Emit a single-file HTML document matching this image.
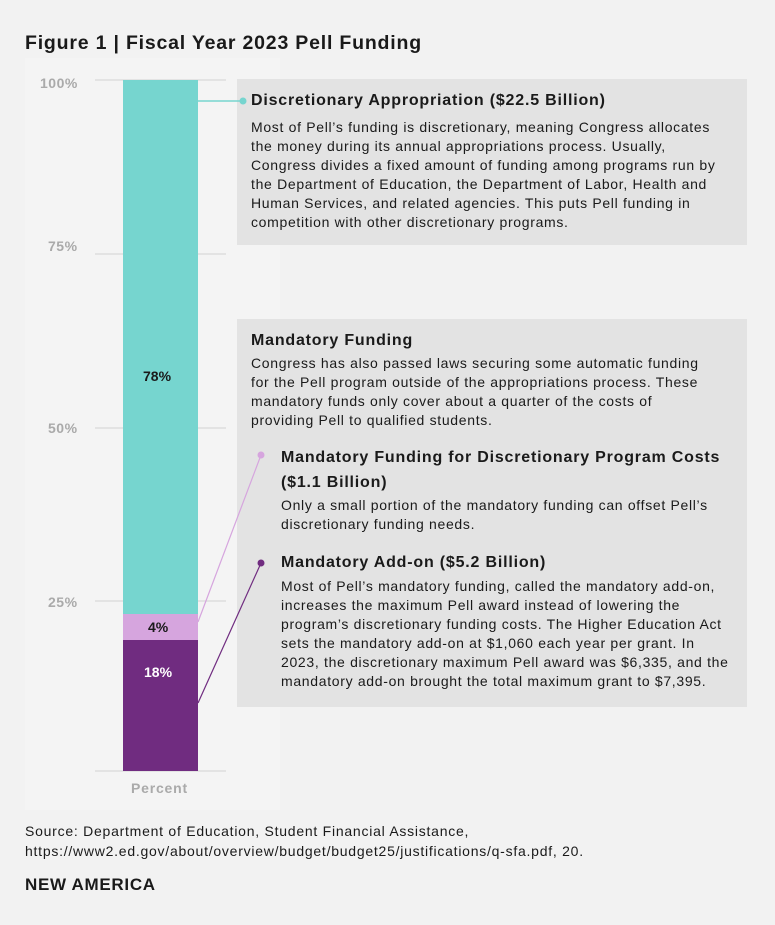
<!DOCTYPE html>
<html><head><meta charset="utf-8"><style>
body{margin:0;width:775px;height:925px;background:#f2f2f2;position:relative;overflow:hidden;font-family:"Liberation Sans",sans-serif;color:#1a1a1a}
.a{position:absolute;white-space:nowrap;line-height:20px}
.b{font-size:14px;letter-spacing:0.68px}
.h{font-size:16px;font-weight:bold;letter-spacing:0.8px}
.y{font-size:14px;font-weight:bold;color:#aaa;letter-spacing:0.5px}
</style></head><body>
<div class="a" style="left:25px;top:31px;font-size:19.5px;font-weight:bold;letter-spacing:0.8px;line-height:24px">Figure 1 | Fiscal Year 2023 Pell Funding</div>
<div style="position:absolute;left:25px;top:58px;width:255px;height:752px;background:#f4f4f4"></div>
<div style="position:absolute;left:237px;top:79px;width:510px;height:166px;background:#e3e3e3"></div>
<div style="position:absolute;left:237px;top:319px;width:510px;height:388px;background:#e3e3e3"></div>
<svg style="position:absolute;left:0;top:0" width="775" height="925">
<g stroke="#ddd" stroke-width="1.5">
<line x1="95" y1="80" x2="226" y2="80"/><line x1="95" y1="254" x2="226" y2="254"/>
<line x1="95" y1="428" x2="226" y2="428"/><line x1="95" y1="601" x2="226" y2="601"/>
<line x1="95" y1="771" x2="226" y2="771"/></g>
<rect x="123" y="80" width="75" height="534" fill="#76d5cf"/>
<rect x="123" y="614" width="75" height="26" fill="#d6a5de"/>
<rect x="123" y="640" width="75" height="131" fill="#702c80"/>
<line x1="198" y1="101" x2="243" y2="101" stroke="#76d5cf" stroke-width="1.5"/><circle cx="243" cy="101" r="3.5" fill="#76d5cf"/>
<line x1="198" y1="622" x2="261" y2="455" stroke="#d6a5de" stroke-width="1.2"/><circle cx="261" cy="455" r="3.5" fill="#d6a5de"/>
<line x1="198" y1="703" x2="261" y2="563" stroke="#702c80" stroke-width="1.2"/><circle cx="261" cy="563" r="3.5" fill="#702c80"/>
</svg>
<div class="a y" style="left:40px;top:73px">100%</div>
<div class="a y" style="left:48px;top:236px">75%</div>
<div class="a y" style="left:48px;top:418px">50%</div>
<div class="a y" style="left:48px;top:592px">25%</div>
<div class="a" style="left:131px;top:778px;font-size:14px;font-weight:bold;color:#aaa;letter-spacing:0.8px">Percent</div>
<div class="a" style="left:143px;top:366px;font-size:14px;font-weight:bold">78%</div>
<div class="a" style="left:148px;top:617px;font-size:14px;font-weight:bold">4%</div>
<div class="a" style="left:144px;top:662px;font-size:14px;font-weight:bold;color:#fff">18%</div>

<div class="a h" style="left:251px;top:91px">Discretionary Appropriation ($22.5 Billion)</div>
<div class="a b" style="left:251px;top:118px;line-height:19px">Most of Pell’s funding is discretionary, meaning Congress allocates<br>the money during its annual appropriations process. Usually,<br>Congress divides a fixed amount of funding among programs run by<br>the Department of Education, the Department of Labor, Health and<br>Human Services, and related agencies. This puts Pell funding in<br>competition with other discretionary programs.</div>

<div class="a h" style="left:251px;top:331px">Mandatory Funding</div>
<div class="a b" style="left:251px;top:354px;line-height:19px">Congress has also passed laws securing some automatic funding<br>for the Pell program outside of the appropriations process. These<br>mandatory funds only cover about a quarter of the costs of<br>providing Pell to qualified students.</div>

<div class="a h" style="left:281px;top:445px;line-height:25px">Mandatory Funding for Discretionary Program Costs<br>($1.1 Billion)</div>
<div class="a b" style="left:281px;top:496px;line-height:19px">Only a small portion of the mandatory funding can offset Pell’s<br>discretionary funding needs.</div>

<div class="a h" style="left:281px;top:553px">Mandatory Add-on ($5.2 Billion)</div>
<div class="a b" style="left:281px;top:577px;line-height:19px">Most of Pell’s mandatory funding, called the mandatory add-on,<br>increases the maximum Pell award instead of lowering the<br>program’s discretionary funding costs. The Higher Education Act<br>sets the mandatory add-on at $1,060 each year per grant. In<br>2023, the discretionary maximum Pell award was $6,335, and the<br>mandatory add-on brought the total maximum grant to $7,395.</div>

<div class="a" style="left:25px;top:822px;font-size:14px;letter-spacing:0.75px;line-height:19.5px">Source: Department of Education, Student Financial Assistance,<br>https://www2.ed.gov/about/overview/budget/budget25/justifications/q-sfa.pdf, 20.</div>
<div class="a" style="left:25px;top:875px;font-size:17px;font-weight:bold;letter-spacing:0.7px">NEW AMERICA</div>
</body></html>
